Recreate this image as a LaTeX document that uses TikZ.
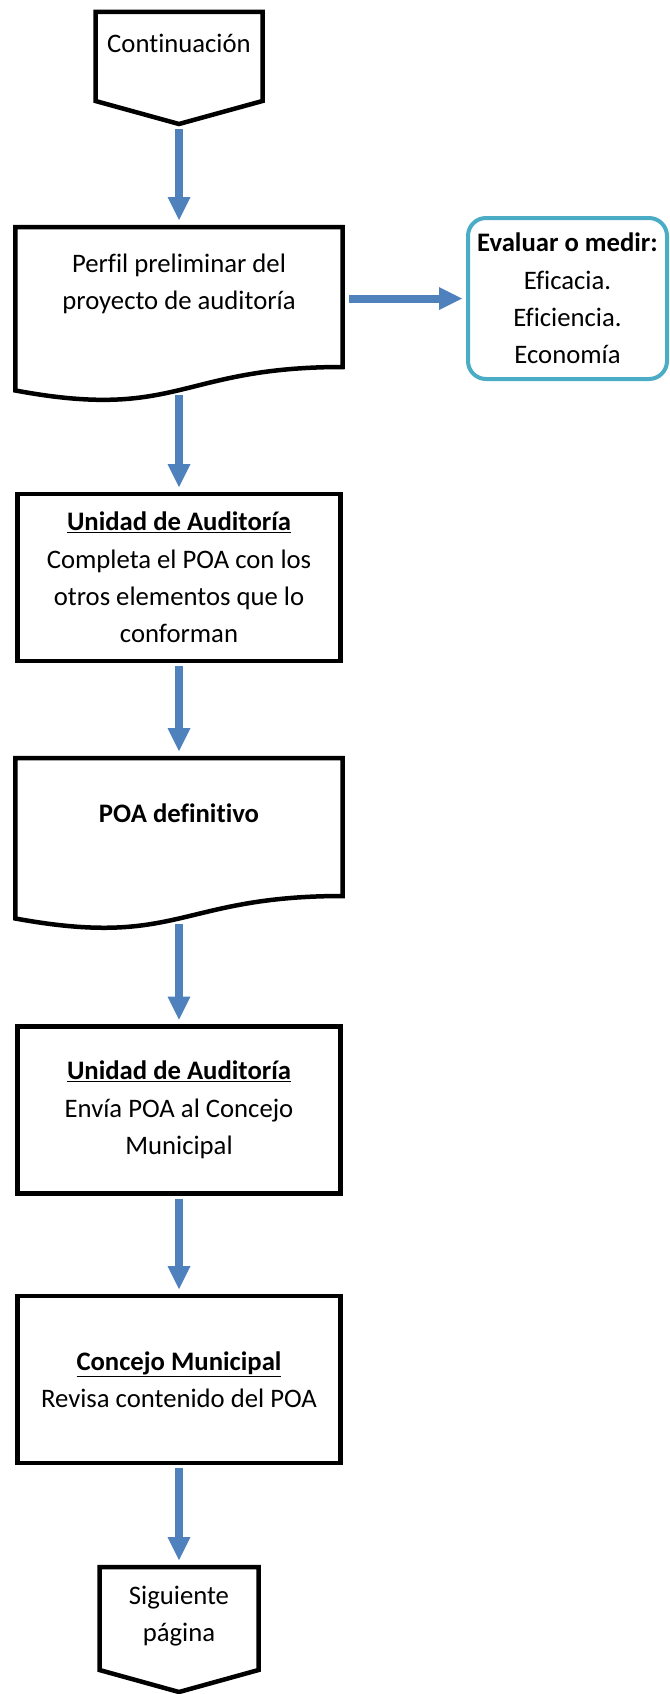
\documentclass[tikz,border=0pt]{standalone}
\usepackage{fontspec}
\setmainfont{Carlito}[Ligatures=CommonOff]
\usepackage{tikz}
\usetikzlibrary{arrows.meta}
\usetikzlibrary{calc}
\definecolor{flowblue}{HTML}{4F81BD}
\definecolor{critteal}{HTML}{4BACC6}
\tikzset{txt/.style={font=\fontsize{26.8}{37.5}\selectfont, align=center, inner sep=0pt, outer sep=0pt}}
\tikzset{outl/.style={draw=black, line width=4.5bp}}
\tikzset{proc/.style={txt, outl, minimum width=323bp, minimum height=167bp}}
\tikzset{doc/.style={txt, minimum width=327bp}}
\tikzset{crit/.style={txt, draw=critteal, line width=4bp, rounded corners=18bp, minimum width=199bp, minimum height=161bp}}
\tikzset{flow/.style={draw=flowblue, line width=8bp, shorten <=7bp, shorten >=5bp}}

\begin{document}
\begin{tikzpicture}[x=1bp, y=-1bp, >={Triangle[width=23bp, length=23bp, line width=0pt]}]
    \useasboundingbox (0,0) rectangle (670,1694);
    \node (cont) at (179,43) [txt, minimum width=167bp, minimum height=62bp] {Continuación};
    \draw [outl] (cont.north west) -- (cont.north east) -- ++(0,89)
      -- ($(cont.north)+(0,112)$) -- ($(cont.north west)+(0,89)$) -- cycle;
    \coordinate (contTip) at ($(cont.north)+(0,112)$);
    \node (perfil) at (179,284) [doc, minimum height=114bp] {Perfil preliminar del\\proyecto de auditoría}
      edge [<-, flow] (contTip);
    \draw [outl] (perfil.north west) -- (perfil.north east) -- ++(0,140)
      .. controls ($(perfil.north)+(0,140)$) and ($(perfil.north)+(0,194)$) .. ($(perfil.north west)+(0,163.5)$) -- cycle;
    \coordinate (perfilB) at ($(perfil.north)+(0,163)$);
    \coordinate (perfilE) at (perfil.east |- 0,298.5);
    \node (crit) at (567.5,298.5) [crit] {\textbf{Evaluar o medir:}\\Eficacia.\\Eficiencia.\\Economía}
      edge [<-, flow, shorten <=6bp, shorten >=6bp] (perfilE);
    \node (unidadA) at (179,577.5) [proc] {\underline{\textbf{Unidad de Auditoría}}\\Completa el POA con los\\otros elementos que lo\\conforman}
      edge [<-, flow] (perfilB);
    \node (poa) at (179,813) [doc, minimum height=110bp] {\textbf{POA definitivo}}
      edge [<-, flow] (unidadA);
    \draw [outl] (poa.north west) -- (poa.north east) -- ++(0,138)
      .. controls ($(poa.north)+(0,138)$) and ($(poa.north)+(0,190.5)$) .. ($(poa.north west)+(0,160.5)$) -- cycle;
    \coordinate (poaB) at ($(poa.north)+(0,160.5)$);
    \node (unidadB) at (179,1110) [proc] {\underline{\textbf{Unidad de Auditoría}}\\Envía POA al Concejo\\Municipal}
      edge [<-, flow] (poaB);
    \node (concejo) at (179,1379.5) [proc] {\underline{\textbf{Concejo Municipal}}\\Revisa contenido del POA}
      edge [<-, flow] (unidadB);
    \node (sig) at (179,1616) [txt, minimum width=159bp, minimum height=98bp] {Siguiente\\página}
      edge [<-, flow] (concejo);
    \draw [outl] (sig.north west) -- (sig.north east) -- ++(0,103)
      -- ($(sig.north)+(0,125)$) -- ($(sig.north west)+(0,103)$) -- cycle;
  \end{tikzpicture}
\end{document}
